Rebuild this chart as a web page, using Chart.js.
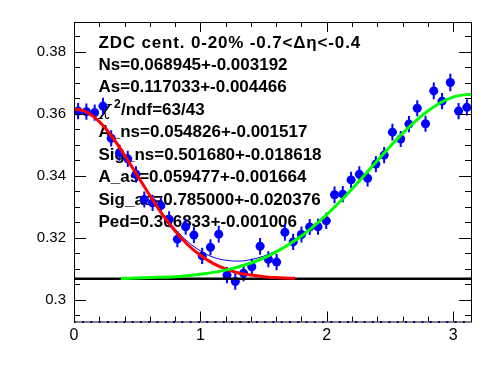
<!DOCTYPE html>
<html>
<head>
<meta charset="utf-8">
<script src="https://cdn.jsdelivr.net/npm/chart.js@4.4.1/dist/chart.umd.min.js"></script>
<style>
  body { margin: 0; background: #fff; }
</style>
</head>
<body>
<canvas id="corrChart" width="496" height="374"></canvas>
<script>
// delta phi bin centres (48 bins over 0..pi)
const dphi = [0.0327, 0.0982, 0.1636, 0.2291, 0.2945, 0.3600, 0.4254, 0.4909, 0.5563, 0.6218,
  0.6872, 0.7527, 0.8181, 0.8836, 0.9490, 1.0145, 1.0799, 1.1454, 1.2108, 1.2763,
  1.3417, 1.4072, 1.4726, 1.5381, 1.6035, 1.6690, 1.7344, 1.7999, 1.8653, 1.9308,
  1.9962, 2.0617, 2.1271, 2.1926, 2.2580, 2.3235, 2.3889, 2.4544, 2.5198, 2.5853,
  2.6507, 2.7162, 2.7816, 2.8471, 2.9125, 2.9780, 3.0434, 3.1089];
const yields = [0.3609, 0.3607, 0.3604, 0.3625, 0.3521, 0.3475, 0.3455, 0.3405, 0.3324, 0.3313,
  0.3304, 0.3260, 0.3196, 0.3236, 0.3209, 0.3142, 0.3170, 0.3212, 0.3080, 0.3059,
  0.3086, 0.3107, 0.3173, 0.3131, 0.3122, 0.3218, 0.3187, 0.3211, 0.3235, 0.3236,
  0.3255, 0.3339, 0.3341, 0.3387, 0.3405, 0.3392, 0.3438, 0.3467, 0.3541, 0.3519,
  0.3567, 0.3618, 0.3568, 0.3674, 0.3641, 0.3701, 0.3609, 0.3621];
const yErr = [0.0026, 0.0026, 0.0026, 0.0027, 0.0026, 0.0026, 0.0026, 0.0026, 0.0026, 0.0026,
  0.0026, 0.0026, 0.0026, 0.0026, 0.0026, 0.0026, 0.0026, 0.0027, 0.0026, 0.0026,
  0.0026, 0.0026, 0.0027, 0.0026, 0.0026, 0.0027, 0.0026, 0.0026, 0.0026, 0.0026,
  0.0026, 0.0027, 0.0026, 0.0026, 0.0026, 0.0026, 0.0026, 0.0026, 0.0027, 0.0026,
  0.0026, 0.0026, 0.0026, 0.0027, 0.0026, 0.0028, 0.0026, 0.0026];
const halfBin = 0.0327;

// fit curves
const nsX = [0, 0.1, 0.2, 0.3, 0.4, 0.5, 0.6, 0.7, 0.8, 0.9, 1.0, 1.1, 1.2, 1.3, 1.4, 1.5, 1.6, 1.7, 1.75];
const nsY = [0.3617, 0.3606, 0.3575, 0.3527, 0.3467, 0.3402, 0.3337, 0.3275, 0.3222, 0.3178,
  0.3144, 0.3118, 0.3100, 0.3087, 0.3080, 0.3075, 0.3072, 0.3070, 0.3070];
const asX = [0.37, 0.6, 0.8, 1.0, 1.2, 1.4, 1.5, 1.6, 1.7, 1.8, 1.9, 2.0, 2.1, 2.2, 2.3, 2.4,
  2.5, 2.6, 2.7, 2.8, 2.9, 3.0, 3.1, 3.1416];
const asY = [0.3069, 0.3072, 0.3075, 0.3083, 0.3096, 0.3119, 0.3135, 0.3155, 0.3179, 0.3206,
  0.3239, 0.3275, 0.3315, 0.3358, 0.3403, 0.3449, 0.3494, 0.3537, 0.3576, 0.3609,
  0.3636, 0.3654, 0.3662, 0.3663];
const totX = [0, 0.2, 0.4, 0.6, 0.7, 0.8, 0.9, 1.0, 1.1, 1.2, 1.3, 1.4, 1.5, 1.6, 1.7, 1.8];
const totY = [0.3617, 0.3575, 0.3469, 0.3340, 0.3280, 0.3229, 0.3188, 0.3158, 0.3138, 0.3128,
  0.3125, 0.3130, 0.3141, 0.3158, 0.3180, 0.3207];
const ped = 0.306833;

const yTicks = [0.3, 0.32, 0.34, 0.36, 0.38];
const xTicks = [0, 1, 2, 3];

const statLines = [
  'ZDC cent. 0-20% -0.7<\u0394\u03b7<-0.4',
  'Ns=0.068945+-0.003192',
  'As=0.117033+-0.004466',
  'CHI',
  'A_ns=0.054826+-0.001517',
  'Sig_ns=0.501680+-0.018618',
  'A_as=0.059477+-0.001664',
  'Sig_as=0.785000+-0.020376',
  'Ped=0.306833+-0.001006'
];

function pts(xs, ys) {
  return xs.map((x, i) => ({ x: x, y: ys[i] }));
}

const textPlugin = {
  id: 'textPlugin',
  beforeDatasetsDraw(chart) {
    const ctx = chart.ctx;
    const xs = chart.scales.x, ys = chart.scales.y;
    const area = chart.chartArea;
    const bold = 'bold 17px "Liberation Sans"';
    ctx.save();
    ctx.fillStyle = '#000';
    ctx.textBaseline = 'alphabetic';
    statLines.forEach((t, i) => {
      const y = 47.5 + i * 22.45;
      ctx.font = bold;
      if (i === 0) {
        // title is spread a bit wider in the original
        const w = ctx.measureText(t).width;
        ctx.letterSpacing = ((361 - 98.5 - w) / t.length) + 'px';
        ctx.fillText(t, 98.5, y);
        ctx.letterSpacing = '0px';
      } else if (t === 'CHI') {
        ctx.font = 'italic 20px "DejaVu Serif"';
        ctx.fillText('\u03c7', 99, y);
        ctx.font = 'bold 12px "Liberation Sans"';
        ctx.fillText('2', 114, y - 7);
        ctx.font = bold;
        ctx.fillText('/ndf=63/43', 121, y);
      } else {
        ctx.fillText(t, 98.5, y);
      }
    });

    // error bars
    ctx.beginPath();
    ctx.rect(area.left, area.top, area.right - area.left, area.bottom - area.top);
    ctx.clip();
    ctx.strokeStyle = '#0000ff';
    ctx.lineWidth = 2;
    dphi.forEach((x, i) => {
      const px = xs.getPixelForValue(x);
      const py = ys.getPixelForValue(yields[i]);
      ctx.beginPath();
      ctx.moveTo(px, ys.getPixelForValue(yields[i] - yErr[i]));
      ctx.lineTo(px, ys.getPixelForValue(yields[i] + yErr[i]));
      ctx.moveTo(xs.getPixelForValue(x - halfBin), py);
      ctx.lineTo(xs.getPixelForValue(x + halfBin), py);
      ctx.stroke();
    });
    ctx.restore();
  }
};

const framePlugin = {
  id: 'framePlugin',
  afterDraw(chart) {
    const ctx = chart.ctx;
    const a = chart.chartArea;
    const xs = chart.scales.x, ys = chart.scales.y;
    ctx.save();
    // blue dotted line along the bottom
    ctx.strokeStyle = '#0000ff';
    ctx.lineWidth = 2;
    ctx.setLineDash([2, 6.28]);
    ctx.lineDashOffset = -8;
    ctx.beginPath();
    ctx.moveTo(a.left, a.bottom + 0.5);
    ctx.lineTo(a.right, a.bottom + 0.5);
    ctx.stroke();
    ctx.setLineDash([]);

    ctx.strokeStyle = '#000';
    ctx.lineWidth = 1;
    ctx.strokeRect(a.left + 0.5, a.top + 0.5, a.right - a.left, a.bottom - a.top);
    ctx.beginPath();
    // y ticks, minor every 0.005
    for (let k = 0; k <= 20; k++) {
      const v = 0.295 + k * 0.005;
      if (v < ys.min || v > ys.max) continue;
      const py = Math.round(ys.getPixelForValue(v)) + 0.5;
      const major = k % 4 === 1;
      const len = major ? 12 : 6;
      ctx.moveTo(a.left, py); ctx.lineTo(a.left + len, py);
      ctx.moveTo(a.right, py); ctx.lineTo(a.right - len, py);
    }
    // x ticks, minor every 0.2
    for (let k = 0; k <= 16; k++) {
      const v = k * 0.2;
      if (v > xs.max) continue;
      const px = Math.round(xs.getPixelForValue(v)) + 0.5;
      const major = k % 5 === 0;
      const len = major ? 10 : 5;
      ctx.moveTo(px, a.bottom); ctx.lineTo(px, a.bottom - len);
      ctx.moveTo(px, a.top); ctx.lineTo(px, a.top + len);
    }
    ctx.stroke();
    ctx.restore();
  }
};

new Chart(document.getElementById('corrChart'), {
  type: 'scatter',
  data: {
    datasets: [
      {
        label: 'away side',
        data: pts(asX, asY),
        showLine: true,
        borderColor: '#00ff00',
        borderWidth: 3,
        pointRadius: 0,
        cubicInterpolationMode: 'monotone',
        order: 1
      },
      {
        label: 'near side',
        data: pts(nsX, nsY),
        showLine: true,
        borderColor: '#ff0000',
        borderWidth: 3,
        pointRadius: 0,
        cubicInterpolationMode: 'monotone',
        order: 2
      },
      {
        label: 'total fit',
        data: pts(totX, totY),
        showLine: true,
        borderColor: '#0000ff',
        borderWidth: 1,
        pointRadius: 0,
        cubicInterpolationMode: 'monotone',
        order: 3
      },
      {
        label: 'pedestal',
        data: [{ x: 0, y: ped }, { x: 3.1416, y: ped }],
        showLine: true,
        borderColor: '#000000',
        borderWidth: 2.5,
        pointRadius: 0,
        order: 4
      },
      {
        label: 'data',
        data: pts(dphi, yields),
        backgroundColor: '#0000ff',
        borderWidth: 0,
        pointRadius: 4.5,
        order: 5
      }
    ]
  },
  options: {
    responsive: false,
    animation: false,
    layout: { padding: { left: 0, right: 25, top: 22, bottom: 0 } },
    plugins: {
      legend: { display: false },
      tooltip: { enabled: false }
    },
    scales: {
      x: {
        type: 'linear',
        min: 0,
        max: 3.1416,
        grid: { display: false, drawTicks: false },
        border: { display: false },
        afterBuildTicks: (s) => { s.ticks = xTicks.map(v => ({ value: v })); },
        afterFit: (s) => { s.height = 52.5; },
        ticks: {
          padding: 4,
          color: '#000',
          font: { family: 'Liberation Sans', size: 16 },
          callback: (v) => String(v)
        }
      },
      y: {
        min: 0.29304,
        max: 0.38962,
        grid: { display: false, drawTicks: false },
        border: { display: false },
        afterBuildTicks: (s) => { s.ticks = yTicks.map(v => ({ value: v })); },
        afterFit: (s) => { s.width = 74; },
        ticks: {
          padding: 8,
          color: '#000',
          font: { family: 'Liberation Sans', size: 15 },
          callback: (v) => String(v)
        }
      }
    }
  },
  plugins: [textPlugin, framePlugin]
});
</script>
</body>
</html>
